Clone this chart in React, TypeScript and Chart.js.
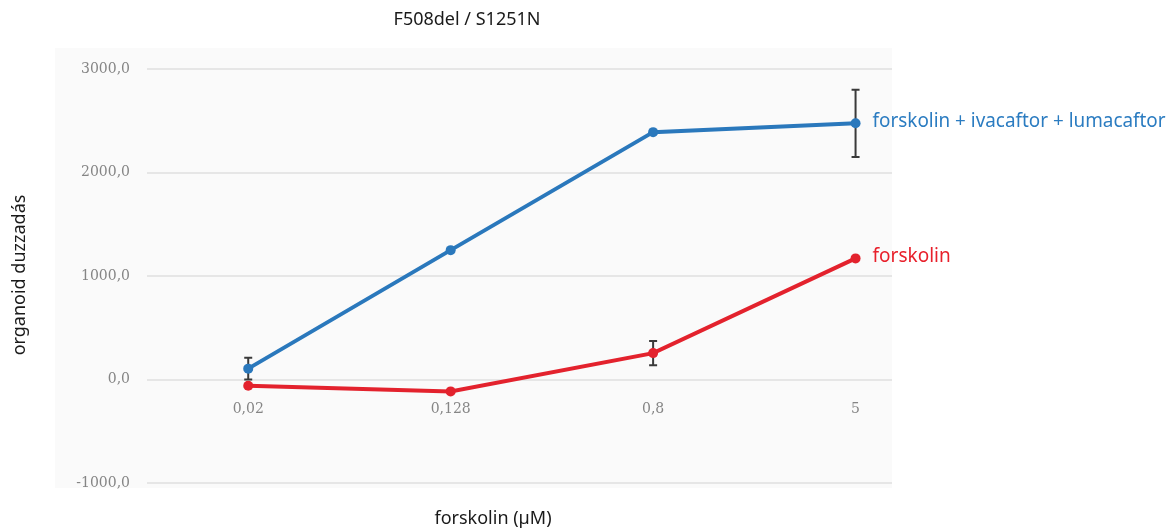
import React, { useEffect, useRef } from "react";
import { Chart, registerables } from "chart.js";

Chart.register(...registerables);

const categories = ["0,02", "0,128", "0,8", "5"];
const comboValues = [105, 1250, 2390, 2475];
const comboErrors = [105, 0, 0, 325];
const forskolinValues = [-60, -115, 255, 1170];
const forskolinErrors = [0, 0, 118, 0];
const seriesLabels = ["forskolin + ivacaftor + lumacaftor", "forskolin"];
const seriesColors = ["#2a78bc", "#e3222d"];
const labelColors = ["#2b7cc1", "#e8202b"];
const chartTitle = "F508del / S1251N";
const yTitle = "organoid duzzadás";
const xTitle = "forskolin (µM)";

const errorsByDataset = [comboErrors, forskolinErrors];
const SANS = "'Noto Sans', 'Open Sans', sans-serif";
const SERIF = "'DejaVu Serif', 'Liberation Serif', serif";

const decor = {
  id: "decor",
  beforeDraw(chart: any) {
    const { ctx, chartArea } = chart;
    ctx.save();
    ctx.fillStyle = "#fafafa";
    ctx.fillRect(chartArea.left - 92, chartArea.top - 21, chartArea.right - chartArea.left + 92, chartArea.bottom - chartArea.top + 26);
    ctx.restore();
  },
  beforeDatasetsDraw(chart: any) {
    const { ctx } = chart;
    const xs = chart.scales.x;
    const ys = chart.scales.y;
    ctx.save();
    ctx.strokeStyle = "#3a3a3a";
    ctx.lineWidth = 2;
    chart.data.datasets.forEach((ds: any, di: number) => {
      const errs = errorsByDataset[di];
      ds.data.forEach((p: any, i: number) => {
        const e = errs[i];
        if (!e) return;
        const x = xs.getPixelForValue(p.x);
        const yT = ys.getPixelForValue(p.y + e);
        const yB = ys.getPixelForValue(p.y - e);
        ctx.beginPath();
        ctx.moveTo(x, yT);
        ctx.lineTo(x, yB);
        ctx.moveTo(x - 4, yT);
        ctx.lineTo(x + 4, yT);
        ctx.moveTo(x - 4, yB);
        ctx.lineTo(x + 4, yB);
        ctx.stroke();
      });
    });
    ctx.restore();
  },
  afterDraw(chart: any) {
    const { ctx } = chart;
    ctx.save();
    ctx.fillStyle = "#1a1a1a";
    ctx.textAlign = "center";
    ctx.textBaseline = "middle";
    ctx.font = `18px ${SANS}`;
    ctx.fillText(chartTitle, 467, 20, 158);
    ctx.fillText(xTitle, 493, 519, 126);
    ctx.save();
    ctx.translate(20, 275);
    ctx.rotate(-Math.PI / 2);
    ctx.fillText(yTitle, 0, 0, 188);
    ctx.restore();
    // series end labels
    ctx.textAlign = "left";
    ctx.font = `19px ${SANS}`;
    const widths = [293, 80];
    chart.data.datasets.forEach((ds: any, di: number) => {
      const meta = chart.getDatasetMeta(di);
      const last = meta.data[meta.data.length - 1];
      ctx.fillStyle = labelColors[di];
      ctx.fillText(seriesLabels[di], last.x + 17, last.y - 2, widths[di]);
    });
    ctx.restore();
  },
};

export default function App() {
  const ref = useRef<HTMLCanvasElement | null>(null);
  useEffect(() => {
    if (!ref.current) return;
    const mk = (vals: number[]) => vals.map((v, i) => ({ x: i, y: v }));
    const chart = new Chart(ref.current, {
      type: "line",
      data: {
        datasets: [
          {
            label: seriesLabels[0],
            data: mk(comboValues),
            borderColor: seriesColors[0],
            backgroundColor: seriesColors[0],
            borderWidth: 4,
            pointRadius: 5,
            pointBorderWidth: 0,
            tension: 0,
          },
          {
            label: seriesLabels[1],
            data: mk(forskolinValues),
            borderColor: seriesColors[1],
            backgroundColor: seriesColors[1],
            borderWidth: 4,
            pointRadius: 5,
            pointBorderWidth: 0,
            tension: 0,
          },
        ],
      },
      options: {
        animation: false,
        responsive: false,
        events: [],
        layout: { padding: { top: 69, right: 275, bottom: 49, left: 0 } },
        plugins: { legend: { display: false }, tooltip: { enabled: false }, title: { display: false } },
        scales: {
          x: {
            type: "linear",
            min: -0.5,
            max: 3.18,
            position: { y: 0 } as any,
            grid: { display: false, drawTicks: false },
            border: { display: false },
            afterBuildTicks: (s: any) => {
              s.ticks = categories.map((_, i) => ({ value: i }));
            },
            ticks: {
              callback: (v: any) => categories[v] ?? "",
              padding: 21,
              color: "#858585",
              font: { family: SERIF, size: 14 },
              maxRotation: 0,
              autoSkip: false,
            },
          },
          y: {
            min: -1000,
            max: 3000,
            afterFit: (s: any) => {
              s.width = 147;
            },
            grid: { color: "#e6e6e6", lineWidth: 2, drawTicks: false },
            border: { display: false },
            ticks: {
              stepSize: 1000,
              padding: 17,
              color: "#858585",
              font: { family: SERIF, size: 14 },
              callback: (v: any) => Number(v).toFixed(1).replace(".", ","),
            },
          },
        },
      },
      plugins: [decor],
    });
    return () => chart.destroy();
  }, []);
  return (
    <div style={{ position: "absolute", left: 0, top: 0, width: 1167, height: 532, background: "#fff" }}>
      <canvas ref={ref} width={1167} height={532} style={{ display: "block" }} />
    </div>
  );
}
